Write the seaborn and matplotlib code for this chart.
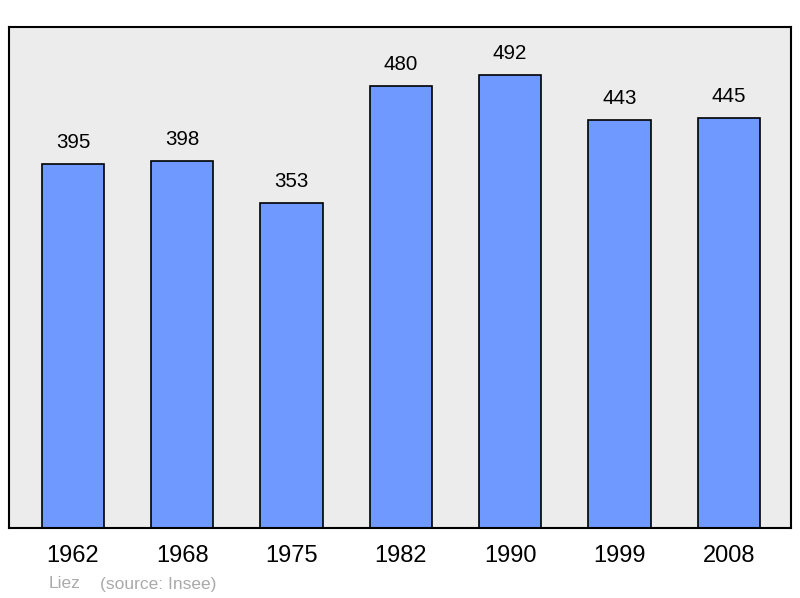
import pandas as pd
import matplotlib.pyplot as plt
import seaborn as sns

years = ['1962', '1968', '1975', '1982', '1990', '1999', '2008']
population = [395, 398, 353, 480, 492, 443, 445]

df = pd.DataFrame({'year': years, 'population': population})

sns.set_style('white')
plt.rcParams['font.family'] = ['Liberation Sans', 'DejaVu Sans']

fig = plt.figure(figsize=(8, 5.98), dpi=100)
ax = fig.add_axes([9 / 800, 1 - 528 / 598, 782 / 800, 501 / 598])
ax.set_facecolor('#ececec')

sns.barplot(data=df, x='year', y='population', color='#7099ff', saturation=1,
            width=0.57, edgecolor='black', linewidth=1.2, ax=ax)

for i, v in enumerate(population):
    ax.text(i, v + 13, str(v), ha='center', va='bottom', fontsize=14.8, color='black')

ax.set_xlim(-0.585, 6.57)
ax.set_ylim(0, 544)
ax.set_yticks([])
ax.set_xlabel('')
ax.set_ylabel('')
ax.tick_params(axis='x', length=0, labelsize=17, pad=12, labelcolor='black')
for s in ax.spines.values():
    s.set_visible(True)
    s.set_color('black')
    s.set_linewidth(1.5)

fig.text(49 / 800, 1 - 584 / 598, 'Liez', fontsize=12.5, color='#aaaaaa', va='center')
fig.text(100 / 800, 1 - 584 / 598, '(source: Insee)', fontsize=12.5, color='#aaaaaa', va='center')

fig.savefig('out.png', dpi=100)
